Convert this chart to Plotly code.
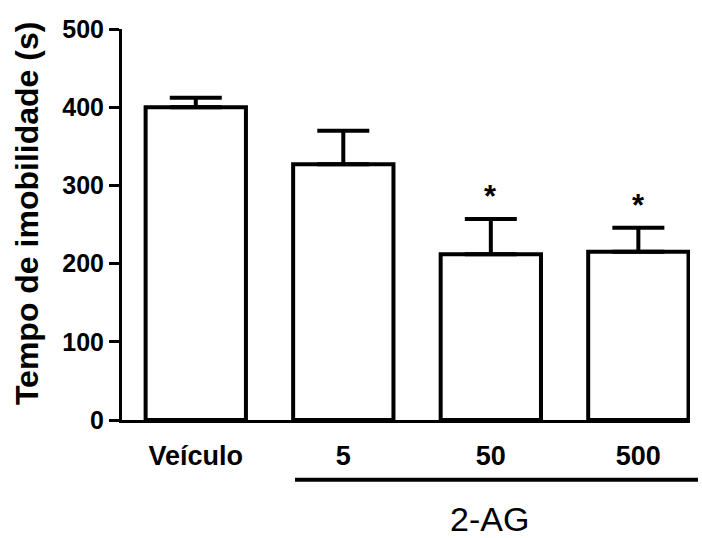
import plotly.graph_objects as go

# Immobility time (s) per group
groups = ["Veículo", "5", "50", "500"]
means = [400, 327, 212, 215]
sem = [12, 43, 45, 31]
significant = [False, False, True, True]

FONT = "Liberation Sans, Arial, sans-serif"

x_pos = list(range(len(groups)))

fig = go.Figure()
fig.add_trace(go.Bar(
    x=x_pos,
    y=means,
    width=0.68,
    marker=dict(color="white", line=dict(color="black", width=4)),
    error_y=dict(
        type="data",
        symmetric=False,
        array=sem,
        arrayminus=[0] * len(sem),
        color="black",
        thickness=4,
        width=26,
    ),
    showlegend=False,
))

# Significance markers above the error bars
for xi, m, e, sig in zip(x_pos, means, sem, significant):
    if sig:
        fig.add_annotation(
            x=xi, y=m + e, text="<b>*</b>", showarrow=False,
            yanchor="bottom", yshift=3,
            font=dict(family=FONT, size=31, color="black"),
        )

# Y axis title (placed as a rotated annotation)
fig.add_annotation(
    xref="paper", yref="paper", x=-0.167, y=0.527,
    text="<b>Tempo de imobilidade (s)</b>", textangle=-90,
    showarrow=False, xanchor="center", yanchor="middle",
    font=dict(family=FONT, size=32, color="black"),
)

# Group bracket for the 2-AG doses
fig.add_shape(
    type="line", xref="paper", yref="paper",
    x0=0.3046, x1=1.014, y0=-0.153, y1=-0.153,
    line=dict(color="black", width=4),
)
fig.add_annotation(
    xref="paper", yref="paper", x=0.647, y=-0.254,
    text="2-AG", showarrow=False, yanchor="middle",
    font=dict(family=FONT, size=34, color="black"),
)

fig.update_xaxes(
    range=[-0.5, 3.35],
    tickmode="array",
    tickvals=x_pos,
    ticktext=[f"<b>{g}</b>" for g in groups],
    ticks="",
    showline=True, linecolor="black", linewidth=3,
    showgrid=False, zeroline=False,
    tickfont=dict(family=FONT, size=27, color="black"),
    ticklabelstandoff=10,
)
fig.update_yaxes(
    range=[0, 500],
    tickvals=[0, 100, 200, 300, 400, 500],
    ticktext=["<b>0</b>", "<b>100</b>", "<b>200</b>", "<b>300</b>", "<b>400</b>", "<b>500</b>"],
    ticks="outside", ticklen=10, tickwidth=3, tickcolor="black",
    showline=True, linecolor="black", linewidth=3,
    showgrid=False, zeroline=False,
    tickfont=dict(family=FONT, size=25, color="black"),
)

fig.update_layout(
    width=702, height=538,
    margin=dict(l=122, r=12, t=29, b=118),
    paper_bgcolor="white", plot_bgcolor="white",
)

fig.write_html("out.html")
